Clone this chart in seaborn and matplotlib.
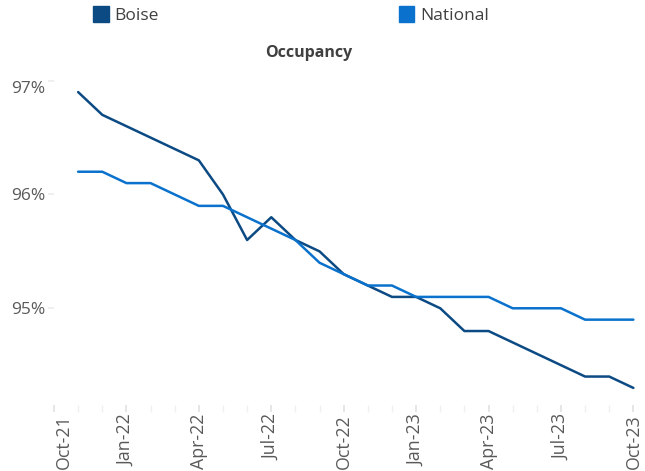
"""Occupancy: Boise vs National, monthly Nov-21 .. Oct-23."""

import matplotlib

matplotlib.use("Agg")
import matplotlib.pyplot as plt
import matplotlib.patches as mpatches
import matplotlib.transforms as mtransforms
import numpy as np
import pandas as pd
import seaborn as sns

# month index 0 = Oct-21 ... 24 = Oct-23 (data starts Nov-21)
months = list(range(1, 25))
boise = [96.9, 96.7, 96.6, 96.5, 96.4, 96.3, 96.0, 95.6, 95.8, 95.6, 95.5, 95.3,
         95.2, 95.1, 95.1, 95.0, 94.8, 94.8, 94.7, 94.6, 94.5, 94.4, 94.4, 94.3]
national = [96.2, 96.2, 96.1, 96.1, 96.0, 95.9, 95.9, 95.8, 95.7, 95.6, 95.4, 95.3,
            95.2, 95.2, 95.1, 95.1, 95.1, 95.1, 95.0, 95.0, 95.0, 94.9, 94.9, 94.9]
tick_pos = [0, 3, 6, 9, 12, 15, 18, 21, 24]
tick_labels = ["Oct-21", "Jan-22", "Apr-22", "Jul-22", "Oct-22",
               "Jan-23", "Apr-23", "Jul-23", "Oct-23"]
y_ticks = [95, 96, 97]
y_labels = ["95%", "96%", "97%"]

colors = {"Boise": "#0C4A84", "National": "#0A72CC"}

df = pd.concat([
    pd.DataFrame({"month": months, "occupancy": boise, "series": "Boise"}),
    pd.DataFrame({"month": months, "occupancy": national, "series": "National"}),
])

sns.set_theme(style="white")
plt.rcParams["font.family"] = ["Open Sans", "DejaVu Sans"]

fig = plt.figure(figsize=(6.45, 4.71), dpi=100)
ax = fig.add_axes([54 / 645, 1 - 405 / 471, (637 - 54) / 645, (405 - 80.7) / 471])

sns.lineplot(data=df, x="month", y="occupancy", hue="series", palette=colors,
             linewidth=1.8, ax=ax, legend=False)

ax.set_xlim(0, 24.15)
ax.set_ylim(94.15, 97.0)
ax.set_xticks(tick_pos)
ax.set_xticklabels(tick_labels, rotation=90, color="#595959", fontsize=12.8)
ax.set_xticks(np.arange(0, 25), minor=True)
ax.set_yticks(y_ticks)
ax.set_yticklabels(y_labels, color="#595959", fontsize=12.5)
ax.set_xlabel("")
ax.set_ylabel("")

for side in ["top", "right", "left", "bottom"]:
    ax.spines[side].set_visible(False)
ax.tick_params(axis="x", which="major", length=5, color="#E3E3E3", pad=1.5, bottom=True)
ax.tick_params(axis="x", which="minor", length=5, color="#F0F0F0", bottom=True)
ax.tick_params(axis="y", length=4, color="#EDEDED", pad=2, left=True)
# top label sits just below its tick, as in the original
ax.get_yticklabels()[-1].set_va("top")
# first date label is nudged right in the original
first = ax.get_xticklabels()[0]
first.set_transform(first.get_transform()
                    + mtransforms.ScaledTranslation(10 / 100, 0, fig.dpi_scale_trans))

fig.text(309 / 645, 1 - 53 / 471, "Occupancy", ha="center", va="center",
         fontsize=11.5, fontweight="bold", color="#404040")

handles = [mpatches.Patch(color=colors[k], label=k) for k in ["Boise", "National"]]
fig.legend(handles=handles, loc="center left", bbox_to_anchor=(93 / 645, 1 - 15 / 471),
           ncol=2, frameon=False, fontsize=12.5, handlelength=0.9, handleheight=1.0,
           handletextpad=0.35, columnspacing=13.8, borderpad=0, borderaxespad=0,
           labelcolor="#404040")

fig.savefig("out.png", dpi=100)
plt.close(fig)
